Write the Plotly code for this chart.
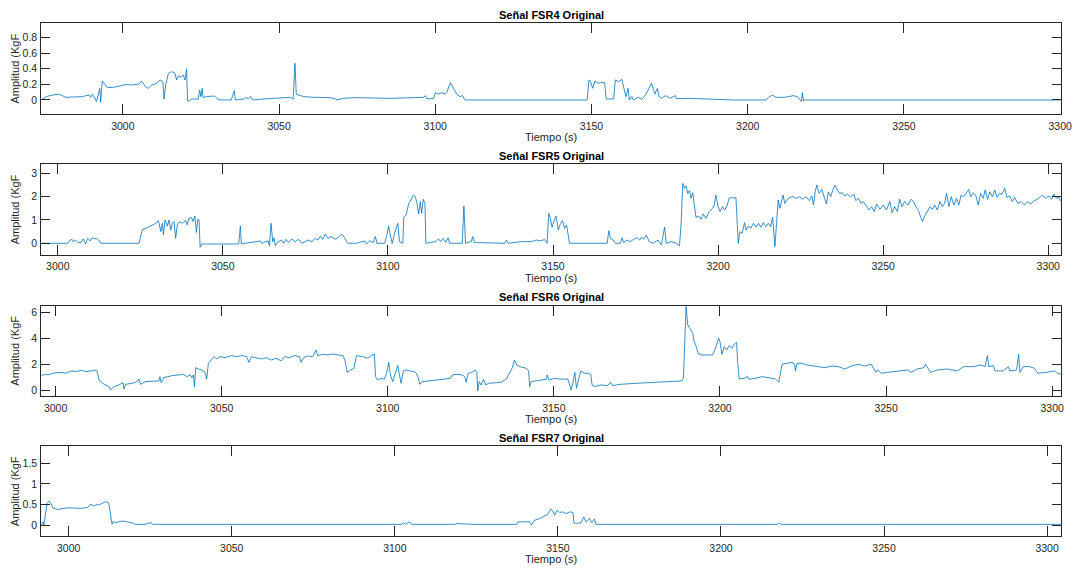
import plotly.graph_objects as go

# ---------------- data (time s, amplitude KgF) ----------------
fsr4 = [
    [2973.9, 0], [2975.5, 0.043], [2977.6, 0.064], [2979.7, 0.073], [2981.8, 0.034], [2986.0, 0.034], [2987.1, 0.043], [2988.2, 0.056], [2989.2, 0.064], [2989.7, 0.034],
    [2990.3, 0.073], [2991.6, -0.02], [2992.6, 0.15], [2992.9, -0.03], [2993.4, 0.244], [2994.0, 0.214], [2995.0, 0.163], [2996.6, 0.158], [2998.7, 0.18], [3000.8, 0.197],
    [3003.0, 0.193], [3005.1, 0.205], [3006.1, 0.24], [3007.2, 0.171], [3008.2, 0.15], [3009.3, 0.193], [3010.9, 0.214], [3011.9, 0.257], [3012.8, 0.235], [3013.2, 0.013],
    [3013.7, 0.193], [3014.6, 0.342], [3015.6, 0.364], [3016.7, 0.342], [3017.2, 0.257], [3017.8, 0.308], [3018.6, 0.291], [3019.3, 0.321], [3019.9, 0.257], [3020.4, 0.398],
    [3020.7, 0], [3020.9, -0.021], [3022.0, 0.013], [3024.1, 0.009], [3024.6, 0.128], [3025.0, 0.043], [3025.4, 0.15], [3025.7, 0.03], [3026.7, 0.043], [3029.4, 0.051],
    [3030.4, 0.009], [3031.5, 0], [3034.7, 0], [3035.7, 0.12], [3036.0, 0], [3038.9, 0.013], [3039.4, 0.034], [3040.2, 0.013], [3041.0, 0.043], [3041.5, 0],
    [3045.2, 0.013], [3050.5, 0.021], [3053.7, 0.034], [3054.5, 0.009], [3055.1, 0.47], [3055.5, 0.073], [3056.3, 0.06], [3057.9, 0.043], [3061.1, 0.034], [3066.4, 0.03],
    [3068.0, 0.013], [3068.5, 0], [3070.6, 0.021], [3074.8, 0.03], [3085.7, 0.021], [3096.3, 0.034], [3096.8, 0.056], [3097.4, 0.013], [3099.5, 0.021], [3100.0, 0.094],
    [3101.1, 0.077], [3102.1, 0.094], [3103.2, 0.073], [3103.7, 0.098], [3104.8, 0.223], [3105.8, 0.15], [3106.9, 0.073], [3107.9, 0.043], [3108.8, 0.056], [3109.2, 0.013],
    [3109.8, 0], [3148.6, 0], [3149.2, 0.257], [3149.7, 0.235], [3150.4, 0.15], [3151.1, 0.244], [3151.8, 0.214], [3152.9, 0.223], [3154.2, 0.223], [3154.7, 0.013],
    [3157.1, 0.013], [3157.6, 0.257], [3158.7, 0.235], [3159.7, 0.265], [3160.3, 0.15], [3161.0, 0.043], [3161.7, 0.15], [3162.1, 0], [3162.9, 0.043], [3163.4, 0],
    [3164.8, 0.034], [3166.1, 0.009], [3167.3, 0.064], [3168.2, 0.137], [3169.2, 0.214], [3169.8, 0.137], [3170.3, 0.077], [3171.1, 0.15], [3171.6, 0.043], [3172.4, 0.021],
    [3173.7, 0.056], [3175.1, 0.021], [3176.9, 0.056], [3177.2, 0.017], [3180.9, 0.021], [3189.3, 0.009], [3195.8, 0], [3205.8, 0], [3206.6, 0.03], [3207.9, 0.064],
    [3209.0, 0.034], [3211.7, 0.034], [3214.8, 0.056], [3216.1, 0.034], [3216.7, 0], [3217.2, -0.02], [3217.5, 0.094], [3217.8, -0.013], [3218.2, 0], [3300.2, 0],
]

fsr5 = [
    [2995.0, 0], [3003.0, 0], [3003.5, 0.1], [3004.3, 0.17], [3004.7, 0.07], [3005.3, 0.14], [3006.0, 0.04], [3007.0, 0.03], [3007.7, 0.19], [3008.4, -0.03],
    [3009.1, 0.21], [3009.8, 0.1], [3010.4, 0.24], [3011.1, 0.19], [3011.8, 0.21], [3012.4, 0.14], [3013.1, 0], [3024.6, 0], [3025.2, 0.36], [3025.7, 0.6],
    [3026.7, 0.64], [3027.7, 0.71], [3028.7, 0.79], [3029.7, 0.86], [3030.5, 0.97], [3031.2, 0.5], [3031.7, 0.86], [3032.0, 0.36], [3032.5, 1.0], [3033.2, 0.74],
    [3033.7, 1.0], [3034.2, 0.57], [3034.7, 0.86], [3035.2, 0.93], [3035.7, 0.21], [3036.2, 0.79], [3036.9, 0.93], [3037.7, 0.86], [3038.7, 0.97], [3039.2, 0.79],
    [3039.7, 1.07], [3040.5, 1.11], [3041.0, 0.93], [3041.5, 1.17], [3042.0, 0.46], [3042.4, 1.03], [3042.8, 1.0], [3043.1, -0.17], [3043.6, -0.03], [3054.8, -0.03],
    [3055.3, 0.74], [3055.6, -0.03], [3056.8, 0], [3061.4, 0.1], [3061.9, 0], [3062.9, 0.07], [3063.7, 0.11], [3064.1, -0.11], [3064.6, 0.86], [3065.1, 0.07],
    [3065.5, 0.24], [3065.9, -0.11], [3066.7, 0.07], [3067.7, 0.14], [3068.4, 0], [3069.1, 0.17], [3069.9, 0.03], [3070.9, 0.19], [3071.9, 0.07], [3072.9, 0.17],
    [3073.9, 0], [3075.9, 0.14], [3077.0, 0.07], [3078.0, 0.21], [3078.8, 0.14], [3079.5, 0.31], [3080.2, 0.17], [3081.0, 0.4], [3081.8, 0.21], [3082.8, 0.29],
    [3084.0, 0.17], [3085.0, 0.26], [3086.0, 0.4], [3087.0, 0.21], [3087.8, 0], [3090.5, 0], [3093.0, 0.1], [3093.5, -0.03], [3094.5, 0.11], [3095.5, 0.03],
    [3096.2, 0.29], [3096.7, 0], [3099.0, 0], [3099.7, 0.36], [3100.2, 0.74], [3100.7, 0.36], [3101.3, 0], [3102.0, 0.43], [3102.5, 0.71], [3103.0, 0.86],
    [3103.5, 0.07], [3104.5, 0], [3104.8, 1.11], [3105.5, 1.21], [3106.3, 1.71], [3107.0, 1.86], [3107.7, 2.07], [3108.3, 2.0], [3108.8, 1.71], [3109.3, 1.26],
    [3109.8, 1.79], [3110.2, 1.29], [3110.7, 1.89], [3111.2, 1.71], [3111.5, 0], [3114.5, 0.07], [3115.3, 0.19], [3116.0, 0.07], [3116.7, 0.21], [3117.5, 0.03],
    [3118.2, 0.24], [3118.7, 0], [3122.5, 0], [3123.0, 1.6], [3123.5, 0], [3125.2, 0.07], [3125.7, 0.29], [3126.2, 0.03], [3135.4, 0], [3135.9, 0.14],
    [3136.4, 0], [3140.4, 0.07], [3143.4, 0.07], [3144.9, 0.14], [3146.4, 0.1], [3147.4, 0.17], [3148.2, 0], [3148.7, 1.29], [3149.2, 1.07], [3149.7, 0.69],
    [3150.2, 0.93], [3150.9, 1.17], [3151.6, 0.57], [3152.3, 0.86], [3152.9, 0.97], [3153.5, 0.64], [3154.1, 0.79], [3154.5, 0.43], [3155.0, 0], [3166.4, 0],
    [3166.9, 0.54], [3167.4, 0.21], [3168.2, 0.14], [3168.9, 0], [3170.4, 0], [3170.9, 0.24], [3171.4, 0.03], [3172.4, 0.14], [3173.4, 0.07], [3174.4, 0.17],
    [3175.4, 0.24], [3176.2, 0.14], [3176.9, 0.26], [3177.5, 0.17], [3178.3, 0.36], [3179.1, 0.07], [3180.3, 0], [3181.8, 0.14], [3182.8, -0.07], [3183.8, 0.69],
    [3184.3, 0], [3185.8, 0.07], [3187.3, 0], [3188.3, -0.11], [3188.8, 0.86], [3189.3, 2.57], [3189.8, 2.36], [3190.3, 2.46], [3190.8, 2.14], [3191.3, 2.26],
    [3191.8, 1.93], [3192.3, 2.17], [3192.8, 1.57], [3193.3, 1.11], [3194.1, 1.17], [3194.8, 1.03], [3195.5, 1.26], [3196.3, 1.07], [3197.3, 1.36], [3198.3, 1.5],
    [3198.8, 1.64], [3199.3, 2.07], [3200.0, 1.57], [3200.6, 1.36], [3201.3, 1.57], [3202.0, 1.43], [3202.8, 1.64], [3203.3, 1.93], [3204.3, 1.97], [3204.9, 1.93],
    [3205.4, 1.97], [3205.8, 0.57], [3206.1, 0], [3206.6, 0.5], [3207.3, 0.43], [3208.0, 0.89], [3208.5, 0.57], [3209.2, 0.74], [3209.9, 0.64], [3210.7, 0.86],
    [3211.5, 0.69], [3212.2, 0.86], [3213.0, 0.69], [3213.7, 0.89], [3214.5, 0.71], [3215.2, 0.86], [3215.9, 0.71], [3216.5, 1.11], [3216.9, 0.14], [3217.2, -0.14],
    [3217.7, 0.86], [3218.2, 1.86], [3218.7, 1.5], [3219.2, 1.79], [3219.7, 2.07], [3220.2, 1.71], [3220.9, 1.86], [3221.7, 1.97], [3222.7, 2.0], [3223.7, 1.93],
    [3224.7, 2.0], [3225.6, 1.89], [3226.6, 2.0], [3227.6, 1.83], [3228.4, 2.03], [3228.9, 1.64], [3229.4, 2.21], [3229.9, 2.5], [3230.6, 2.14], [3231.4, 2.31],
    [3232.1, 2.03], [3232.8, 1.69], [3233.4, 2.21], [3234.1, 2.0], [3234.8, 2.31], [3235.4, 2.5], [3236.1, 2.29], [3236.8, 2.14], [3237.6, 2.17], [3238.4, 2.03],
    [3239.1, 2.11], [3240.1, 2.0], [3241.1, 2.11], [3241.7, 1.83], [3242.5, 1.93], [3243.3, 1.71], [3244.0, 1.79], [3245.0, 1.6], [3245.7, 1.43], [3246.5, 1.57],
    [3247.3, 1.36], [3248.0, 1.69], [3249.0, 1.46], [3250.0, 1.64], [3251.0, 1.43], [3252.0, 1.79], [3252.7, 1.31], [3253.5, 1.57], [3254.3, 1.36], [3255.0, 1.89],
    [3255.7, 1.57], [3256.5, 1.79], [3257.5, 1.64], [3258.5, 1.89], [3259.2, 1.79], [3259.9, 1.57], [3260.6, 1.43], [3261.4, 1.11], [3261.9, 0.93], [3262.6, 1.17],
    [3263.4, 1.36], [3264.2, 1.57], [3264.9, 1.46], [3265.6, 1.64], [3266.4, 1.43], [3267.2, 1.79], [3267.9, 1.57], [3268.6, 1.71], [3269.2, 2.14], [3269.9, 1.57],
    [3270.6, 2.0], [3271.4, 1.64], [3272.2, 1.93], [3272.9, 1.64], [3273.6, 2.07], [3274.4, 2.0], [3275.1, 2.14], [3275.9, 2.31], [3276.5, 2.0], [3277.3, 2.17],
    [3278.1, 2.03], [3278.8, 1.64], [3279.5, 2.14], [3280.3, 1.93], [3280.9, 2.29], [3281.6, 1.89], [3282.3, 2.21], [3283.1, 2.0], [3283.8, 2.29], [3284.5, 1.97],
    [3285.3, 2.14], [3286.0, 2.11], [3286.8, 2.36], [3287.5, 1.97], [3288.3, 2.03], [3289.1, 1.79], [3289.8, 1.97], [3290.8, 1.71], [3291.8, 1.79], [3292.8, 1.64],
    [3293.7, 1.79], [3294.7, 1.69], [3295.7, 1.83], [3296.7, 1.89], [3297.7, 2.0], [3298.2, 2.07], [3299.2, 1.93], [3300.2, 2.03], [3301.0, 1.89], [3301.7, 2.11],
    [3302.5, 1.93], [3303.2, 1.97], [3303.8, 1.79],
]

fsr6 = [
    [2995.7, 1.13], [2996.7, 1.23], [2997.7, 1.18], [2999.2, 1.31], [3001.2, 1.38], [3003.2, 1.31], [3004.7, 1.49], [3006.2, 1.44], [3007.7, 1.54], [3009.2, 1.44],
    [3010.7, 1.49], [3012.2, 1.56], [3012.5, 1.49], [3013.1, 0.79], [3014.1, 0.54], [3015.1, 0.41], [3016.1, 0.28], [3016.6, 0.03], [3017.6, 0.28], [3019.1, 0.41],
    [3020.3, 0.59], [3020.6, 0.08], [3021.1, 0.46], [3023.1, 0.54], [3024.6, 0.67], [3025.1, 0.87], [3025.6, 0.46], [3027.1, 0.67], [3029.1, 0.67], [3031.1, 0.72],
    [3031.4, 1.05], [3031.8, 0.59], [3032.6, 0.97], [3035.1, 1.13], [3037.1, 1.18], [3038.5, 1.23], [3039.5, 1.05], [3040.5, 1.18], [3041.0, 0.97], [3041.5, 1.18],
    [3041.8, 0.28], [3042.2, 1.74], [3043.0, 1.64], [3044.0, 1.56], [3045.0, 1.38], [3045.5, 0.87], [3046.0, 2.08], [3047.0, 2.41], [3047.8, 2.59], [3048.5, 2.41],
    [3049.5, 2.59], [3051.0, 2.51], [3053.0, 2.67], [3054.5, 2.59], [3056.0, 2.67], [3057.5, 2.59], [3058.2, 2.15], [3059.0, 2.59], [3060.5, 2.51], [3062.0, 2.41],
    [3063.4, 2.51], [3064.9, 2.33], [3066.4, 2.46], [3067.9, 2.26], [3068.9, 2.59], [3070.4, 2.51], [3071.9, 2.67], [3073.4, 2.59], [3073.9, 2.15], [3074.7, 2.51],
    [3075.9, 2.64], [3077.4, 2.59], [3078.4, 3.1], [3078.9, 2.67], [3080.4, 2.77], [3081.9, 2.72], [3083.4, 2.79], [3084.9, 2.72], [3086.5, 2.67], [3087.1, 2.33],
    [3087.8, 1.38], [3088.8, 1.56], [3089.8, 1.69], [3090.6, 2.67], [3092.5, 2.59], [3094.0, 2.46], [3095.0, 2.67], [3096.0, 2.79], [3096.3, 1.05], [3097.0, 0.79],
    [3098.0, 0.92], [3099.0, 0.85], [3099.7, 1.38], [3100.3, 2.15], [3100.8, 1.18], [3101.5, 0.67], [3102.3, 1.31], [3103.0, 1.9], [3103.5, 1.23], [3104.0, 0.54],
    [3104.7, 1.49], [3105.5, 1.56], [3106.5, 1.49], [3108.0, 1.44], [3108.6, 1.31], [3109.2, 0.97], [3109.6, 0.46], [3110.4, 0.67], [3112.4, 0.72], [3114.4, 0.79],
    [3116.4, 0.85], [3118.9, 0.92], [3119.4, 1.18], [3120.9, 1.23], [3122.4, 1.18], [3123.2, 1.05], [3123.6, 0.62], [3124.2, 1.31], [3125.3, 1.38], [3126.3, 1.56],
    [3126.8, 1.38], [3127.1, -0.05], [3127.5, 0.67], [3128.1, 0.41], [3128.8, 0.85], [3129.5, 0.41], [3130.3, 0.54], [3132.3, 0.59], [3134.3, 0.62], [3135.8, 0.92],
    [3136.8, 1.38], [3137.5, 1.74], [3138.1, 2.33], [3138.8, 1.95], [3139.8, 1.82], [3140.8, 1.74], [3141.7, 1.69], [3142.4, 1.49], [3142.7, 0.28], [3143.2, 0.67],
    [3144.7, 0.72], [3146.2, 0.79], [3147.7, 0.85], [3148.0, 1.18], [3148.5, 0.79], [3150.2, 0.92], [3152.2, 0.85], [3154.2, 0.87], [3154.7, 0.41], [3155.2, 0.03],
    [3155.7, 0.54], [3156.3, 1.38], [3156.8, 0.15], [3157.5, 0.92], [3158.1, 1.49], [3159.1, 1.31], [3160.3, 1.31], [3161.1, 1.23], [3161.5, 0.41], [3162.3, 0.28],
    [3164.1, 0.41], [3166.1, 0.36], [3167.1, 0.62], [3167.6, 0.36], [3170.1, 0.46], [3175.0, 0.54], [3180.0, 0.62], [3185.0, 0.72], [3188.5, 0.72], [3189.0, 0.92],
    [3189.8, 6.45], [3190.3, 5.03], [3191.0, 4.77], [3191.8, 4.38], [3192.2, 3.79], [3192.7, 3.49], [3193.4, 2.85], [3194.4, 2.72], [3195.9, 2.72], [3197.8, 2.72],
    [3198.8, 3.36], [3199.6, 4.0], [3200.0, 3.74], [3200.6, 2.77], [3201.3, 3.36], [3202.0, 3.1], [3202.8, 3.44], [3203.6, 3.23], [3204.3, 3.54], [3205.0, 3.69],
    [3205.3, 2.21], [3205.8, 0.87], [3207.3, 0.92], [3208.3, 1.05], [3208.7, 0.85], [3210.7, 0.92], [3212.7, 1.05], [3214.7, 0.97], [3216.7, 0.87], [3217.7, 0.62],
    [3218.2, 1.23], [3218.7, 2.0], [3220.2, 2.08], [3221.7, 2.15], [3222.5, 2.0], [3222.7, 1.49], [3223.2, 2.08], [3224.7, 2.08], [3226.1, 1.95], [3227.6, 1.9],
    [3229.6, 1.82], [3231.6, 1.74], [3233.6, 1.87], [3235.6, 1.82], [3237.6, 1.64], [3239.6, 1.87], [3241.6, 2.0], [3243.5, 1.87], [3245.5, 2.0], [3246.0, 1.82],
    [3247.0, 1.38], [3247.5, 1.56], [3248.5, 1.31], [3250.5, 1.38], [3253.5, 1.49], [3256.5, 1.56], [3257.5, 1.38], [3259.4, 1.64], [3261.4, 1.74], [3261.9, 2.0],
    [3263.4, 1.38], [3265.4, 1.56], [3268.4, 1.64], [3271.4, 1.49], [3273.4, 1.82], [3276.4, 1.82], [3278.3, 1.95], [3279.8, 1.82], [3280.5, 2.67], [3280.9, 1.82],
    [3282.3, 1.9], [3282.8, 1.49], [3285.3, 1.49], [3286.8, 1.82], [3287.3, 1.49], [3289.3, 1.56], [3289.9, 2.77], [3290.3, 1.38], [3291.3, 1.82], [3293.2, 1.82],
    [3294.7, 1.69], [3295.7, 1.31], [3298.2, 1.38], [3300.7, 1.49], [3301.7, 1.31], [3302.7, 1.23],
]

fsr7 = [
    [2991.6, 0], [2992.1, 0.08], [2992.4, 0], [2992.9, 0.28], [2993.4, 0.53], [2993.9, 0.58], [2994.4, 0.55], [2995.2, 0.41], [2996.7, 0.38], [2998.7, 0.41],
    [3000.2, 0.42], [3002.2, 0.41], [3004.2, 0.41], [3005.8, 0.43], [3006.8, 0.51], [3007.8, 0.46], [3008.5, 0.5], [3009.3, 0.49], [3010.3, 0.54], [3011.3, 0.57],
    [3012.3, 0.53], [3012.8, 0.24], [3013.3, 0.02], [3013.8, 0.1], [3014.3, 0.06], [3015.4, 0.08], [3016.4, 0.1], [3017.9, 0.08], [3019.4, 0.06], [3020.4, 0.02],
    [3023.4, 0.02], [3025.3, 0.06], [3025.7, 0.02], [3029.5, 0.02], [3036.1, 0.02], [3039.6, 0.01], [3088.0, 0.01], [3102.2, 0.02], [3102.7, 0.06], [3103.3, 0.02],
    [3104.3, 0.08], [3105.3, 0.02], [3118.5, 0.02], [3119.0, 0.04], [3123.6, 0.02], [3137.3, 0.02], [3137.8, 0.08], [3141.4, 0.08], [3141.9, 0], [3142.9, 0.12],
    [3144.4, 0.16], [3145.9, 0.23], [3146.9, 0.26], [3147.8, 0.39], [3148.5, 0.34], [3149.0, 0.24], [3149.8, 0.36], [3150.5, 0.31], [3151.5, 0.32], [3152.5, 0.28],
    [3153.6, 0.32], [3154.6, 0.31], [3154.9, 0.06], [3155.6, 0.04], [3157.1, 0.06], [3157.9, 0.2], [3158.6, 0.08], [3159.7, 0.16], [3160.4, 0.06], [3161.2, 0.15],
    [3161.7, 0.02], [3163.2, 0.02], [3189.6, 0.03], [3197.8, 0.02], [3217.4, 0.02], [3217.9, 0.06], [3218.4, 0.02], [3304.2, 0.02],
]

titles = ["Señal FSR4 Original", "Señal FSR5 Original", "Señal FSR6 Original", "Señal FSR7 Original"]
x_ranges = [[2973.9, 3300.2], [2995.0, 3303.8], [2995.7, 3302.6], [2991.6, 3304.2]]
y_ranges = [[-0.18, 0.984], [-0.49, 3.39], [-0.44, 6.51], [-0.27, 1.91]]
y_ticks = [[0, 0.2, 0.4, 0.6, 0.8], [0, 1, 2, 3], [0, 2, 4, 6], [0, 0.5, 1, 1.5]]
x_ticks = [3000, 3050, 3100, 3150, 3200, 3250, 3300]
x_title = "Tiempo (s)"
y_title = "Amplitud (KgF"

# ---------------- layout geometry (pixels) ----------------
W, H = 1083, 571
LEFT, RIGHT = 41.7, 1071.7
boxes = [(23.3, 114.0), (164.3, 254.7), (305.7, 396.0), (446.3, 536.3)]

FONT = "Liberation Sans, Arial, Helvetica, sans-serif"
AX = "#262626"
LINE = "#0072BD"

fig = go.Figure()
series = [fsr4, fsr5, fsr6, fsr7]
annotations = []
for i, data in enumerate(series):
    n = i + 1
    xs = [p[0] for p in data]
    ys = [p[1] for p in data]
    fig.add_trace(go.Scatter(x=xs, y=ys, mode="lines", line=dict(color=LINE, width=0.8),
                             xaxis="x%d" % n, yaxis="y%d" % n, showlegend=False,
                             hoverinfo="skip"))
    top, bot = boxes[i]
    xa = dict(domain=[LEFT / W, RIGHT / W], range=x_ranges[i], tickvals=x_ticks,
              ticks="inside", ticklen=10, tickwidth=1, tickcolor=AX,
              showline=True, linecolor=AX, linewidth=1, mirror="ticks",
              showgrid=False, zeroline=False, anchor="y%d" % n,
              tickfont=dict(family=FONT, size=10.5, color=AX), ticklabelstandoff=2)
    ya = dict(domain=[1 - bot / H, 1 - top / H], range=y_ranges[i], tickvals=y_ticks[i],
              ticks="inside", ticklen=9, tickwidth=1, tickcolor=AX,
              showline=True, linecolor=AX, linewidth=1, mirror="ticks",
              showgrid=False, zeroline=False, anchor="x%d" % n,
              tickfont=dict(family=FONT, size=10.5, color=AX), ticklabelstandoff=1)
    key = "" if n == 1 else str(n)
    fig.update_layout(**{"xaxis" + key: xa, "yaxis" + key: ya})
    cx = (LEFT + RIGHT) / 2 / W
    annotations.append(dict(text="<b>%s</b>" % titles[i], x=cx, y=1 - (top - 8.5) / H,
                            xref="paper", yref="paper", showarrow=False,
                            xanchor="center", yanchor="middle",
                            font=dict(family=FONT, size=11, color="#000000")))
    annotations.append(dict(text=x_title, x=cx, y=1 - (bot + 23) / H,
                            xref="paper", yref="paper", showarrow=False,
                            xanchor="center", yanchor="middle",
                            font=dict(family=FONT, size=11, color=AX)))
    annotations.append(dict(text=y_title, x=15 / W, y=1 - (top + bot) / 2 / H,
                            xref="paper", yref="paper", showarrow=False, textangle=-90,
                            xanchor="center", yanchor="middle",
                            font=dict(family=FONT, size=11, color=AX)))

fig.update_layout(width=W, height=H, margin=dict(l=0, r=0, t=0, b=0),
                  paper_bgcolor="white", plot_bgcolor="white",
                  annotations=annotations, font=dict(family=FONT))
fig.write_html("out.html", config={"displayModeBar": False},
               post_script="document.body.style.margin='0';document.body.style.padding='0';document.body.style.overflow='hidden';")
